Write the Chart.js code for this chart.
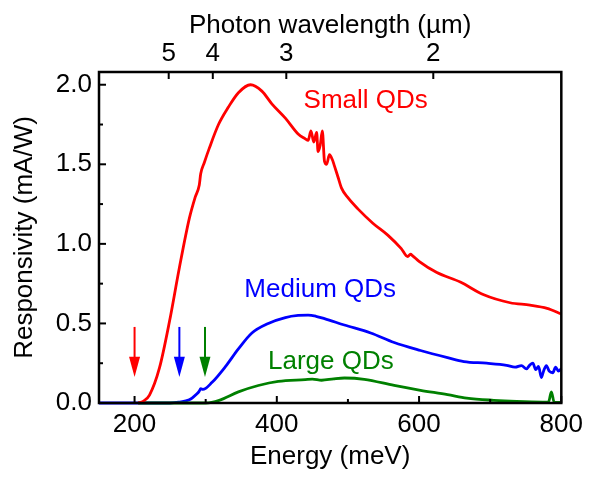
<!DOCTYPE html>
<html>
<head>
<meta charset="utf-8">
<script src="https://cdn.jsdelivr.net/npm/chart.js@4/dist/chart.umd.min.js"></script>
<style>
  body { margin: 0; background: #fff; }
  canvas { display: block; }
</style>
</head>
<body>
<canvas id="respChart" width="589" height="477"></canvas>
<script>
// Small QDs (red) - energy in meV, responsivity in mA/W
const smallE = [205, 212, 221, 235, 249, 263, 277, 285, 291, 293, 298, 305, 318, 332, 346, 363, 379, 393, 412, 430, 440,
  444, 448, 452, 456, 458, 461, 464, 467, 470, 474, 478, 481, 486, 491, 500, 514, 535, 556, 575, 584, 588, 591,
  600, 625, 658, 691, 728, 756, 780, 800];
const smallR = [0, 0.01, 0.05, 0.22, 0.51, 0.85, 1.16, 1.29, 1.37, 1.44, 1.51, 1.60, 1.75, 1.86, 1.95, 2.00, 1.96, 1.88, 1.79, 1.69, 1.66,
  1.65, 1.71, 1.64, 1.70, 1.58, 1.62, 1.71, 1.52, 1.50, 1.56, 1.53, 1.49, 1.42, 1.35, 1.29, 1.22, 1.13, 1.055, 0.97, 0.92, 0.935, 0.925,
  0.89, 0.82, 0.76, 0.68, 0.63, 0.615, 0.595, 0.56];

// Medium QDs (blue)
const mediumE = [150, 250, 262, 277, 287, 291, 293, 296, 309, 328, 346, 365, 388, 412, 430, 444, 455, 467, 495, 532,
  565, 602, 640, 663, 695, 723, 735, 744, 751, 756, 760, 764, 768, 772, 775, 779, 783, 788, 792, 796, 800];
const mediumR = [0, 0, 0.005, 0.02, 0.055, 0.075, 0.09, 0.085, 0.13, 0.23, 0.34, 0.44, 0.50, 0.537, 0.55, 0.552, 0.545, 0.53, 0.49, 0.44,
  0.38, 0.33, 0.285, 0.26, 0.25, 0.237, 0.225, 0.235, 0.215, 0.24, 0.25, 0.21, 0.23, 0.16, 0.2, 0.235, 0.2, 0.19, 0.225, 0.2, 0.216];

// Large QDs (green)
const largeE = [205, 300, 319, 346, 374, 402, 440, 450, 463, 480, 495, 523, 565, 602, 640, 667, 705, 737, 774, 782, 786, 790, 800];
const largeR = [0, 0, 0.017, 0.07, 0.11, 0.136, 0.147, 0.15, 0.143, 0.152, 0.157, 0.149, 0.11, 0.08, 0.053, 0.031, 0.017, 0.01, 0.006, 0.006, 0.07, 0.004, 0.003];

// axis ticks
const energyTicks = [200, 300, 400, 500, 600, 700, 800];
const respTicks = [0, 0.25, 0.5, 0.75, 1.0, 1.25, 1.5, 1.75, 2.0];
const wavelengthTicks = [5, 4, 3, 2];   // um, top axis

// onset arrows (energy, colour)
const arrowE = [200, 263, 299];
const arrowColors = ['#ff0000', '#0000ff', '#008000'];

// curve labels
const labelText = ['Small QDs', 'Medium QDs', 'Large QDs'];
const labelE = [525, 461, 476];
const labelR = [1.90, 0.71, 0.26];
const labelColors = ['#ff0000', '#0000ff', '#008000'];

const FONT = "'Liberation Sans', Arial, Helvetica, sans-serif";
Chart.defaults.font.family = FONT;
Chart.defaults.color = '#000';

function toXY(xs, ys) {
  return xs.map((x, i) => ({ x: x, y: ys[i] }));
}

// frame, inward ticks, arrows and curve labels
const decorPlugin = {
  id: 'decor',
  afterDatasetsDraw(chart) {
    const ctx = chart.ctx;
    const a = chart.chartArea;
    const xs = chart.scales.x, ys = chart.scales.y, xt = chart.scales.x2;
    ctx.save();

    // arrows
    arrowE.forEach((e, i) => {
      const px = xs.getPixelForValue(e);
      const yTop = ys.getPixelForValue(0.478);
      const yHead = ys.getPixelForValue(0.29);
      const yTip = ys.getPixelForValue(0.164);
      ctx.strokeStyle = arrowColors[i];
      ctx.fillStyle = arrowColors[i];
      ctx.lineWidth = 2;
      ctx.beginPath();
      ctx.moveTo(px, yTop);
      ctx.lineTo(px, yHead + 2);
      ctx.stroke();
      ctx.beginPath();
      ctx.moveTo(px - 5.5, yHead);
      ctx.lineTo(px + 5.5, yHead);
      ctx.lineTo(px, yTip);
      ctx.closePath();
      ctx.fill();
    });

    // labels
    ctx.font = '26px ' + FONT;
    ctx.textAlign = 'center';
    ctx.textBaseline = 'middle';
    labelText.forEach((t, i) => {
      ctx.fillStyle = labelColors[i];
      ctx.fillText(t, xs.getPixelForValue(labelE[i]), ys.getPixelForValue(labelR[i]));
    });

    // frame
    ctx.strokeStyle = '#000';
    ctx.lineWidth = 2.5;
    ctx.strokeRect(a.left, a.top, a.right - a.left, a.bottom - a.top);

    // inward ticks
    ctx.lineWidth = 2;
    xs.ticks.forEach(t => {
      const px = xs.getPixelForValue(t.value);
      const len = t.value % 200 === 0 ? 7 : 4;
      ctx.beginPath();
      ctx.moveTo(px, a.bottom);
      ctx.lineTo(px, a.bottom - len);
      ctx.stroke();
    });
    ys.ticks.forEach(t => {
      const py = ys.getPixelForValue(t.value);
      const len = Math.abs(t.value * 2 - Math.round(t.value * 2)) < 1e-6 ? 7 : 4;
      ctx.beginPath();
      ctx.moveTo(a.left, py);
      ctx.lineTo(a.left + len, py);
      ctx.stroke();
    });
    xt.ticks.forEach(t => {
      const px = xt.getPixelForValue(t.value);
      ctx.beginPath();
      ctx.moveTo(px, a.top);
      ctx.lineTo(px, a.top + 7);
      ctx.stroke();
    });
    ctx.restore();
  }
};

const lineDefaults = {
  pointRadius: 0,
  borderWidth: 2.8,
  fill: false,
  cubicInterpolationMode: 'monotone'
};

new Chart(document.getElementById('respChart'), {
  type: 'line',
  data: {
    datasets: [
      Object.assign({ label: 'Small QDs', data: toXY(smallE, smallR), borderColor: '#ff0000', order: 1 }, lineDefaults),
      Object.assign({ label: 'Medium QDs', data: toXY(mediumE, mediumR), borderColor: '#0000ff', order: 3 }, lineDefaults),
      Object.assign({ label: 'Large QDs', data: toXY(largeE, largeR), borderColor: '#008000', order: 2 }, lineDefaults)
    ]
  },
  options: {
    responsive: false,
    animation: false,
    clip: 3,
    layout: { padding: { left: 0, right: 23, top: 0, bottom: 0 } },
    plugins: { legend: { display: false }, tooltip: { enabled: false } },
    scales: {
      x: {
        type: 'linear',
        position: 'bottom',
        min: 150,
        max: 800,
        afterBuildTicks: s => { s.ticks = energyTicks.map(v => ({ value: v })); },
        afterFit: s => { s.height = 74; },
        grid: { display: false, drawTicks: false },
        border: { display: false },
        ticks: {
          autoSkip: false,
          maxRotation: 0,
          padding: 6,
          font: { size: 26 },
          callback: v => (v % 200 === 0 ? String(v) : '')
        },
        title: { display: true, text: 'Energy (meV)', font: { size: 26 }, padding: { top: 0, bottom: 5 } }
      },
      x2: {
        type: 'linear',
        position: 'top',
        min: 150,
        max: 800,
        afterBuildTicks: s => { s.ticks = wavelengthTicks.map(w => ({ value: 1240 / w })); },
        afterFit: s => { s.height = 72; },
        grid: { display: false, drawTicks: false },
        border: { display: false },
        ticks: {
          autoSkip: false,
          maxRotation: 0,
          padding: 3,
          font: { size: 26 },
          callback: v => String(Math.round(1240 / v))
        },
        title: { display: true, text: 'Photon wavelength (\u00b5m)', font: { size: 26 }, padding: { top: 10, bottom: 0 } }
      },
      y: {
        type: 'linear',
        min: 0,
        max: 2.08,
        afterBuildTicks: s => { s.ticks = respTicks.map(v => ({ value: v })); },
        afterFit: s => { s.width = 99; },
        grid: { display: false, drawTicks: false },
        border: { display: false },
        ticks: {
          autoSkip: false,
          padding: 7,
          font: { size: 26 },
          callback: v => (Math.abs(v * 2 - Math.round(v * 2)) < 1e-6 ? v.toFixed(1) : '')
        },
        title: { display: true, text: 'Responsivity (mA/W)', font: { size: 26 }, padding: { top: 9, bottom: 0 } }
      }
    }
  },
  plugins: [decorPlugin]
});
</script>
</body>
</html>
